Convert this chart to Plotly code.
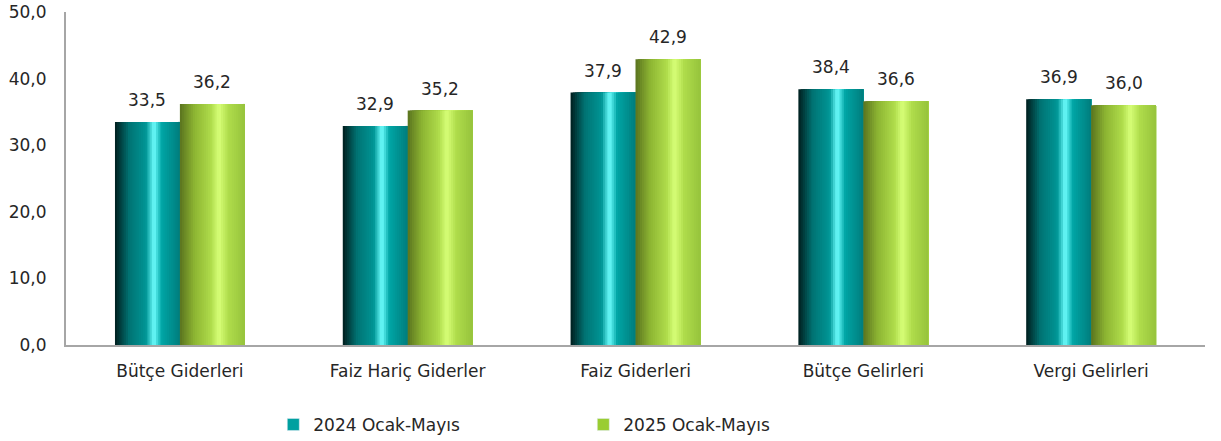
import plotly.graph_objects as go

categories = ["Bütçe Giderleri", "Faiz Hariç Giderler", "Faiz Giderleri", "Bütçe Gelirleri", "Vergi Gelirleri"]
series_names = ["2024 Ocak-Mayıs", "2025 Ocak-Mayıs"]
values_2024 = [33.5, 32.9, 37.9, 38.4, 36.9]
values_2025 = [36.2, 35.2, 42.9, 36.6, 36.0]

FONT = "DejaVu Sans"
TXT = "#262626"
FS = 17
BW = 0.285  # bar width in category units
CAT_PX = (1221 - 66 - 16) / len(categories)

# gradient stops: (position 0..1, rgb)
teal_stops = [(0.0, (0, 30, 30)), (0.22, (0, 115, 115)), (0.48, (0, 150, 150)),
              (0.6, (110, 255, 255)), (0.72, (0, 165, 165)), (1.0, (0, 125, 125))]
green_stops = [(0.0, (90, 115, 30)), (0.22, (140, 180, 50)), (0.48, (175, 220, 75)),
               (0.6, (215, 255, 120)), (0.75, (175, 220, 75)), (1.0, (150, 195, 60))]


def interp(stops, t):
    for (p0, c0), (p1, c1) in zip(stops[:-1], stops[1:]):
        if p0 <= t <= p1:
            f = (t - p0) / (p1 - p0) if p1 > p0 else 0
            c = [round(a + (b - a) * f) for a, b in zip(c0, c1)]
            return "rgb(%d,%d,%d)" % tuple(c)
    return "rgb(%d,%d,%d)" % stops[-1][1]


fig = go.Figure()
N = 30
annotations = []
for name, vals, stops, off, legcol in [
    (series_names[0], values_2024, teal_stops, -BW, "#00A0A0"),
    (series_names[1], values_2025, green_stops, 0.0, "#9ACD32"),
]:
    sw = BW / N
    for i in range(N):
        t = (i + 0.5) / N
        fig.add_trace(go.Bar(
            x=categories, y=vals, width=BW - i * sw, offset=off + i * sw,
            marker=dict(color=interp(stops, t), line=dict(width=0)),
            showlegend=False, hoverinfo="skip",
        ))
    # legend-only entry
    fig.add_trace(go.Bar(
        x=[None], y=[None], name=name, marker=dict(color=legcol),
        showlegend=True,
    ))
    for c, v in zip(categories, vals):
        annotations.append(dict(
            x=c, y=v, xref="x", yref="y", text=f"{v:.1f}".replace(".", ","),
            showarrow=False, yanchor="bottom", yshift=10,
            xshift=(off + BW / 2) * CAT_PX,
            font=dict(family=FONT, size=FS, color=TXT),
        ))

fig.update_layout(
    width=1221, height=441,
    barmode="overlay",
    separators=",.",
    paper_bgcolor="white", plot_bgcolor="white",
    margin=dict(l=66, r=16, t=12, b=96, autoexpand=False),
    font=dict(family=FONT, size=FS, color=TXT),
    annotations=annotations,
    xaxis=dict(showline=True, linecolor="#A6A6A6", linewidth=2, ticks="outside",
               ticklen=10, tickcolor="rgba(0,0,0,0)",
               showgrid=False, tickfont=dict(size=FS, color=TXT)),
    yaxis=dict(range=[0, 50], dtick=10, tickformat=".1f", showline=True,
               linecolor="#A6A6A6", linewidth=2, showgrid=False, zeroline=False,
               ticks="outside", ticklen=14, tickcolor="rgba(0,0,0,0)",
               tickfont=dict(size=FS, color=TXT)),
    legend=dict(orientation="h", x=0.182, xanchor="left", y=-0.24, yanchor="middle",
                entrywidth=265, entrywidthmode="pixels",
                font=dict(size=FS, color=TXT), itemwidth=30),
)

fig.write_html("out.html", config={"displayModeBar": False},
               post_script="document.body.style.margin='0';")
